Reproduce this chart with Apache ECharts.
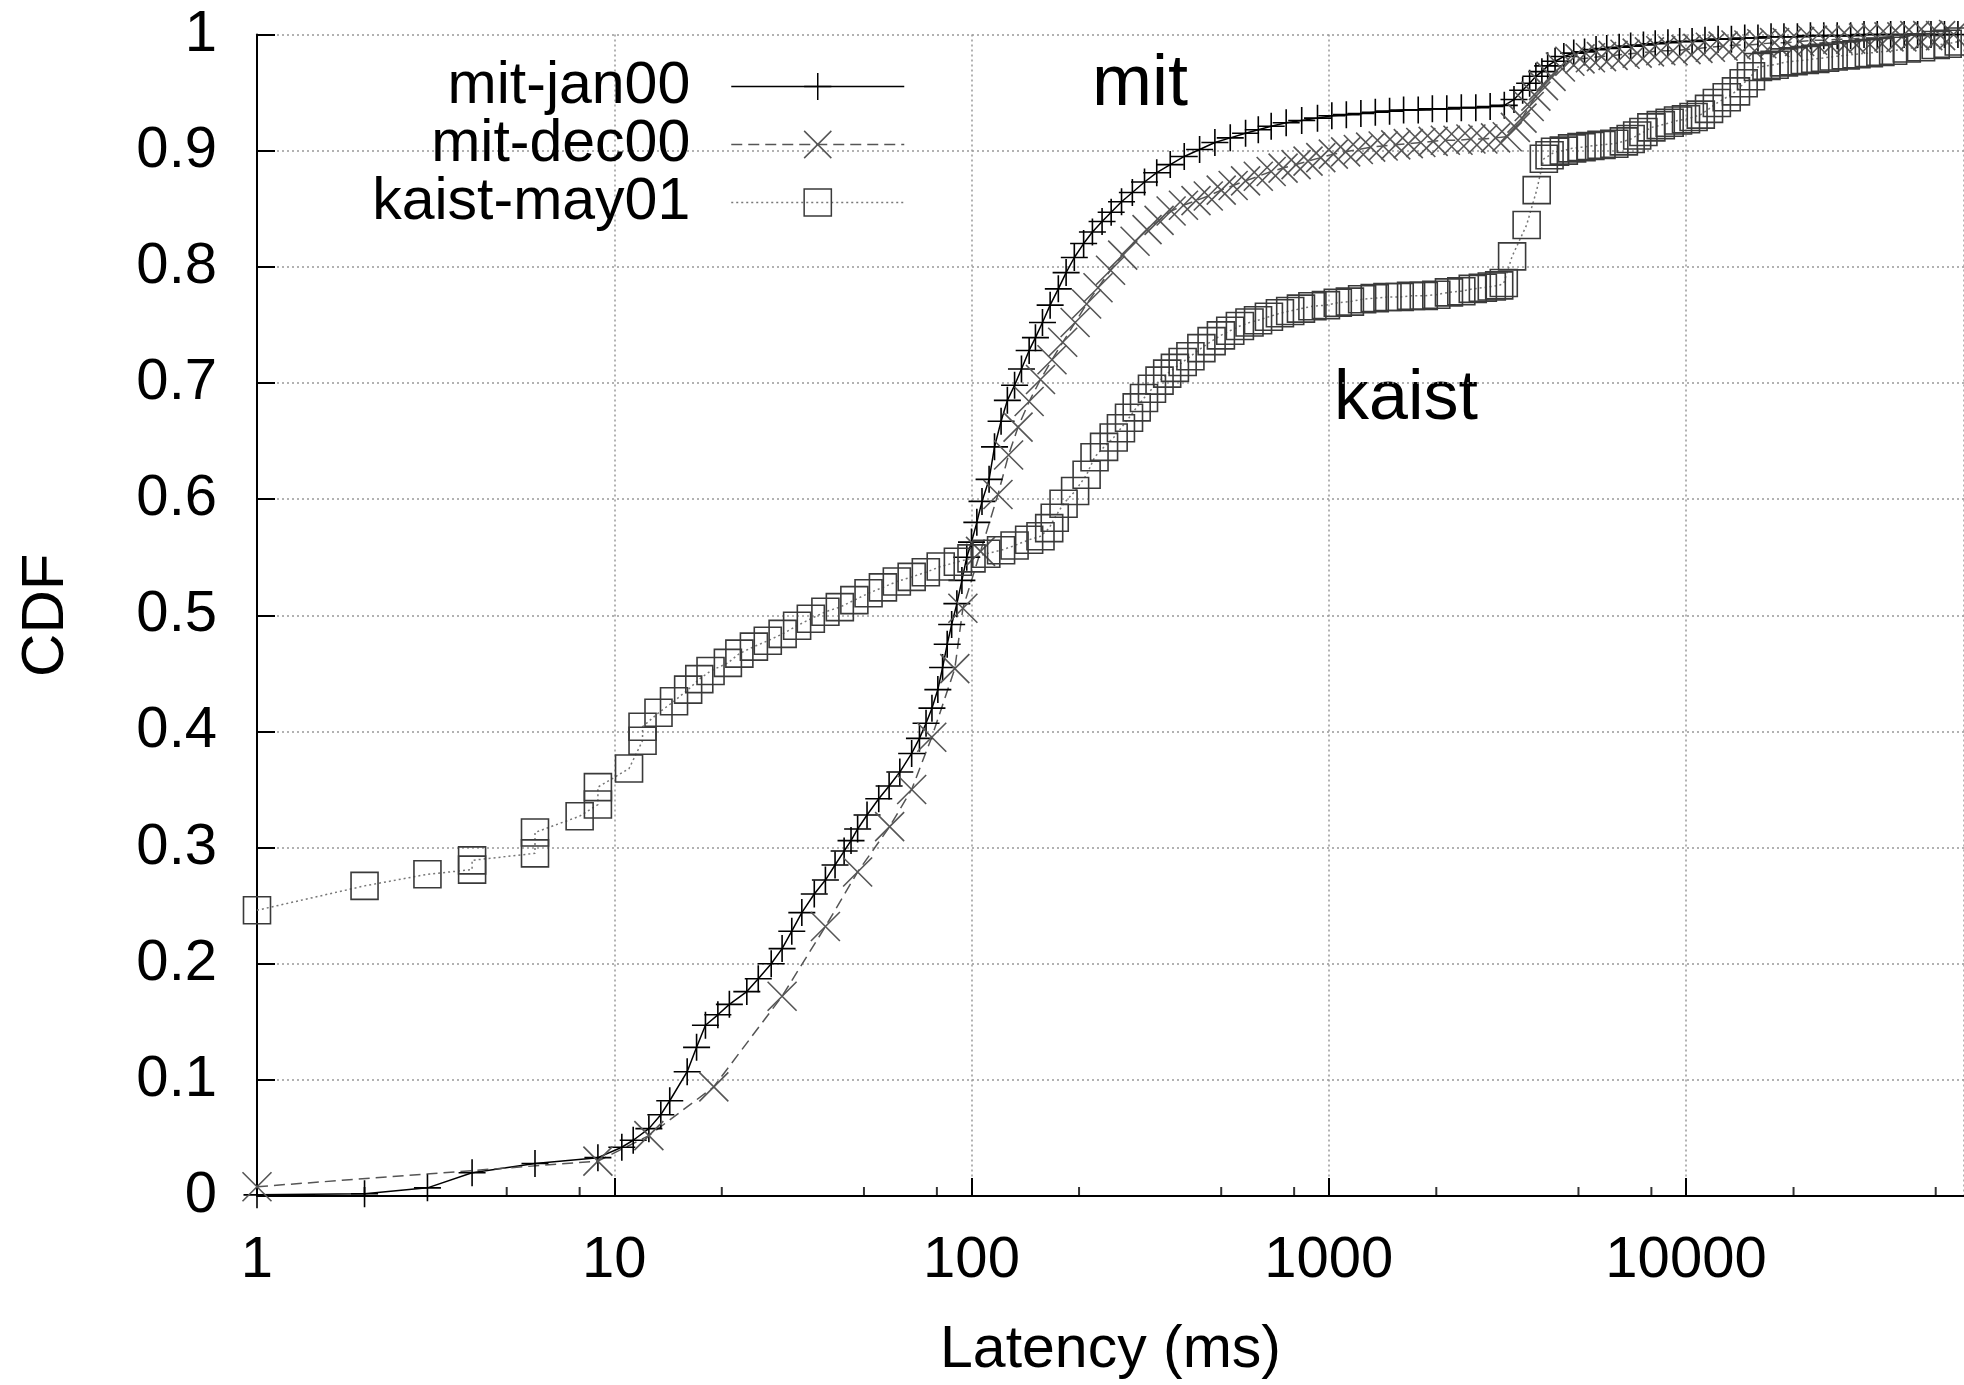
<!DOCTYPE html>
<html>
<head>
<meta charset="utf-8">
<title>Latency CDF</title>
<script src="https://cdn.jsdelivr.net/npm/echarts@6/dist/echarts.min.js"></script>
<style>
  html, body { margin: 0; padding: 0; background: #fff; }
  #chart { width: 1964px; height: 1385px; }
</style>
</head>
<body>
<div id="chart"></div>
<script>
// Latency (ms) -> cumulative fraction, one array per trace
const mitJan00 = [
  [1,0.001],[2,0.002],[3,0.007],[4,0.02],[6,0.028],[9,0.033],[10.5,0.042],[11.3,0.048],[12.5,0.058],
  [13.5,0.07],[14.3,0.082],[16,0.107],[17,0.128],[18,0.147],[19.5,0.156],[21,0.165],[23.5,0.176],
  [25.3,0.187],[27.5,0.2],[29.5,0.213],[31.4,0.228],[33.5,0.244],[36.3,0.26],[39,0.272],[41.5,0.285],
  [44,0.297],[46,0.306],[48,0.316],[51,0.328],[55,0.342],[58.8,0.353],[63,0.365],[68,0.381],[71.5,0.394],
  [74.6,0.407],[77.5,0.42],[80.5,0.436],[83,0.455],[85.5,0.475],[88,0.492],[91,0.51],[94,0.53],[97,0.55],
  [100,0.563],[103.5,0.58],[107,0.598],[112,0.617],[116,0.645],[121,0.667],[126,0.685],[132,0.698],
  [138,0.712],[145,0.728],[151,0.739],[158,0.752],[166,0.767],[175,0.781],[184,0.795],[194,0.808],
  [206,0.82],[218,0.83],[232,0.839],[246,0.847],[263,0.856],[282,0.864],[305,0.873],[330,0.881],
  [360,0.888],[394,0.895],[435,0.901],[480,0.907],[530,0.911],[585,0.915],[635,0.918],[690,0.921],
  [760,0.924],[840,0.926],[930,0.928],[1020,0.93],[1120,0.931],[1230,0.932],[1350,0.933],[1480,0.934],
  [1620,0.935],[1780,0.935],[1950,0.936],[2140,0.936],[2350,0.937],[2580,0.937],[2830,0.938],[3100,0.939],
  [3300,0.944],[3490,0.952],[3650,0.958],[3800,0.964],[3950,0.968],[4100,0.973],[4300,0.977],[4550,0.981],
  [4850,0.984],[5200,0.985],[5600,0.987],[6000,0.988],[6500,0.989],[7000,0.99],[7600,0.991],[8200,0.992],
  [8900,0.993],[9600,0.994],[10400,0.994],[11300,0.995],[12300,0.996],[13400,0.996],[14600,0.997],
  [15900,0.997],[17300,0.998],[18800,0.998],[20500,0.998],[22300,0.999],[24300,0.999],[26500,0.999],
  [28900,0.999],[31500,1],[34300,1],[37400,1],[40800,1],[44500,1],[48500,1],[52900,1],[57700,1]
];

const mitDec00 = [
  [1,0.008],[9,0.03],[12.5,0.052],[19,0.094],[29.5,0.172],[39,0.232],[48,0.279],[59,0.318],[68,0.35],
  [77.4,0.395],[89.8,0.454],[94.6,0.506],[106,0.555],[118.6,0.604],[127,0.638],[135,0.662],[145,0.684],
  [156,0.703],[168,0.72],[180,0.735],[195,0.752],[210,0.768],[226,0.782],[245,0.797],[265,0.81],
  [287,0.822],[310,0.832],[335,0.84],[362,0.848],[392,0.853],[425,0.857],[460,0.861],[500,0.866],
  [540,0.87],[585,0.874],[635,0.878],[690,0.882],[745,0.885],[810,0.888],[875,0.891],[950,0.894],
  [1030,0.897],[1115,0.899],[1210,0.901],[1310,0.903],[1420,0.904],[1540,0.905],[1670,0.906],
  [1810,0.907],[1960,0.908],[2120,0.909],[2300,0.909],[2500,0.91],[2700,0.91],[2930,0.911],[3160,0.912],
  [3330,0.92],[3475,0.928],[3640,0.938],[3800,0.947],[3990,0.956],[4190,0.964],[4450,0.972],[4730,0.977],
  [5050,0.979],[5400,0.98],[5800,0.981],[6250,0.982],[6750,0.983],[7300,0.984],[7900,0.985],[8500,0.986],
  [9200,0.986],[10000,0.987],[10800,0.988],[11700,0.989],[12700,0.99],[13800,0.991],[15000,0.991],
  [16300,0.992],[17700,0.993],[19200,0.993],[20800,0.994],[22600,0.995],[24500,0.995],[26600,0.996],
  [28900,0.996],[31400,0.997],[34100,0.997],[37000,0.998],[40200,0.998],[43700,0.999],[47500,0.999],
  [51600,0.999],[56100,1]
];

const kaistMay01 = [
  [1,0.246],[2,0.267],[3,0.277],[4,0.281],[4,0.289],[6,0.295],[6,0.313],[8,0.327],[9,0.337],[9,0.352],
  [11,0.368],[12,0.392],[12,0.404],[13.3,0.416],[14.7,0.426],[16.1,0.436],[17.3,0.445],[18.6,0.452],
  [20.8,0.459],[22.4,0.467],[24.6,0.473],[26.9,0.478],[29.6,0.484],[32.5,0.491],[35.5,0.497],[39,0.503],
  [42.8,0.507],[47,0.513],[51.5,0.519],[56.5,0.524],[61.8,0.529],[68,0.533],[74.5,0.537],[82,0.542],
  [91.6,0.546],[100,0.549],[110,0.553],[121,0.556],[132,0.56],[145,0.565],[156,0.568],[165,0.575],
  [171,0.584],[181,0.596],[195,0.607],[210,0.621],[221,0.636],[235,0.645],[250,0.653],[262,0.661],
  [276,0.67],[290,0.679],[304,0.687],[320,0.695],[336,0.702],[353,0.708],[371,0.713],[390,0.718],
  [410,0.723],[440,0.73],[470,0.736],[499,0.741],[530,0.745],[564,0.749],[600,0.752],[634,0.754],
  [680,0.757],[730,0.76],[780,0.762],[836,0.764],[900,0.766],[982,0.767],[1060,0.769],[1146,0.77],
  [1240,0.772],[1345,0.773],[1460,0.774],[1580,0.774],[1700,0.775],[1845,0.775],[2000,0.776],[2170,0.778],
  [2350,0.779],[2530,0.781],[2700,0.782],[2860,0.783],[3000,0.784],[3090,0.786],[3260,0.809],[3580,0.836],
  [3820,0.866],[4000,0.893],[4150,0.896],[4300,0.899],[4550,0.9],[4800,0.902],[5100,0.903],[5400,0.904],
  [5800,0.905],[6300,0.906],[6700,0.908],[7000,0.91],[7300,0.913],[7600,0.916],[8000,0.92],[8500,0.922],
  [9000,0.924],[9500,0.926],[10000,0.927],[10500,0.929],[11000,0.931],[11600,0.936],[12200,0.941],
  [13000,0.946],[13800,0.951],[14500,0.958],[15200,0.964],[15900,0.972],[16800,0.973],[17700,0.974],
  [18800,0.976],[20000,0.977],[21500,0.978],[23000,0.979],[24500,0.98],[25900,0.981],[28000,0.982],
  [30000,0.983],[32500,0.984],[35000,0.985],[38000,0.986],[41500,0.988],[45500,0.989],[50000,0.991],
  [54000,0.992],[58000,0.994]
];

const seriesNames = ['mit-jan00', 'mit-dec00', 'kaist-may01'];
// Short in-between ticks along the latency axis
const minorTicks = [2, 5, 8, 20, 50, 80, 200, 500, 800, 2000, 5000, 8000, 20000, 50000];
const latencyMax = 60000;

const FONT = '"Liberation Sans", Arial, Helvetica, sans-serif';
const PLUS = 'path://M0,5L10,5M5,0L5,10';
const CROSS = 'path://M0,0L10,10M10,0L0,10';
const gridDots = { color: '#999', width: 1.5, type: [2, 3] };

const chart = echarts.init(document.getElementById('chart'), null, { renderer: 'canvas' });

chart.setOption({
  animation: false,
  backgroundColor: '#fff',
  grid: { left: 257, right: 0, top: 34.5, bottom: 182, containLabel: false },
  xAxis: {
    type: 'log',
    logBase: 10,
    min: 1,
    max: latencyMax,
    name: 'Latency (ms)',
    nameLocation: 'middle',
    nameGap: 125,
    nameTextStyle: { fontSize: 59, color: '#000', fontFamily: FONT },
    axisLine: { show: true, lineStyle: { color: '#000', width: 2 } },
    axisTick: { show: true, inside: true, length: 18, lineStyle: { color: '#000', width: 2 } },
    axisLabel: {
      fontSize: 58, color: '#000', fontFamily: FONT, margin: 36,
      showMaxLabel: false,
      formatter: v => String(Math.round(v))
    },
    splitLine: { show: true, lineStyle: gridDots }
  },
  yAxis: {
    type: 'value',
    min: 0,
    max: 1,
    interval: 0.1,
    name: 'CDF',
    nameLocation: 'middle',
    nameRotate: 90,
    nameGap: 181,
    nameTextStyle: { fontSize: 60, color: '#000', fontFamily: FONT },
    axisLine: { show: true, lineStyle: { color: '#000', width: 2 } },
    axisTick: { show: true, inside: true, length: 18, lineStyle: { color: '#000', width: 2 } },
    axisLabel: {
      fontSize: 58, color: '#000', fontFamily: FONT, margin: 40,
      formatter: v => String(+v.toFixed(1))
    },
    splitLine: { show: true, lineStyle: gridDots }
  },
  legend: {
    data: seriesNames,
    orient: 'vertical',
    align: 'right',
    right: 1059,
    top: 57,
    padding: 0,
    itemWidth: 173,
    itemHeight: 34,
    itemGap: -1,
    selectedMode: false,
    textStyle: { fontSize: 59, color: '#000', fontFamily: FONT, padding: [0, 36, 0, 0] },
    itemStyle: { borderWidth: 1.5 },
    lineStyle: { width: 1.5 }
  },
  graphic: [
    { type: 'text', x: 1092, y: 85, silent: true,
      style: { text: 'mit', fill: '#000', font: '72px ' + FONT, align: 'left', verticalAlign: 'middle' } },
    { type: 'text', x: 1334, y: 400, silent: true,
      style: { text: 'kaist', fill: '#000', font: '70px ' + FONT, align: 'left', verticalAlign: 'middle' } }
  ],
  series: [
    {
      name: seriesNames[0], type: 'line', data: mitJan00,
      symbol: PLUS, symbolSize: 27, showAllSymbol: true,
      lineStyle: { color: '#000', width: 1.5, type: 'solid' },
      itemStyle: { color: 'transparent', borderColor: '#000', borderWidth: 1.6 },
      emphasis: { disabled: true }, z: 3
    },
    {
      name: seriesNames[1], type: 'line', data: mitDec00,
      symbol: CROSS, symbolSize: 29, showAllSymbol: true,
      lineStyle: { color: '#555', width: 1.5, type: [11, 6] },
      itemStyle: { color: 'transparent', borderColor: '#555', borderWidth: 1.6 },
      emphasis: { disabled: true }, z: 3
    },
    {
      name: seriesNames[2], type: 'line', data: kaistMay01,
      symbol: 'rect', symbolSize: 27, showAllSymbol: true,
      lineStyle: { color: '#777', width: 1.5, type: [2, 3] },
      itemStyle: { color: 'transparent', borderColor: '#3a3a3a', borderWidth: 1.6 },
      emphasis: { disabled: true }, z: 3
    },
    {
      type: 'scatter', data: minorTicks.map(v => [v, 0]),
      symbol: 'rect', symbolSize: [2, 9], symbolOffset: [0, -4.5],
      itemStyle: { color: '#000' }, silent: true, z: 4,
      emphasis: { disabled: true }
    }
  ]
});
</script>
</body>
</html>
